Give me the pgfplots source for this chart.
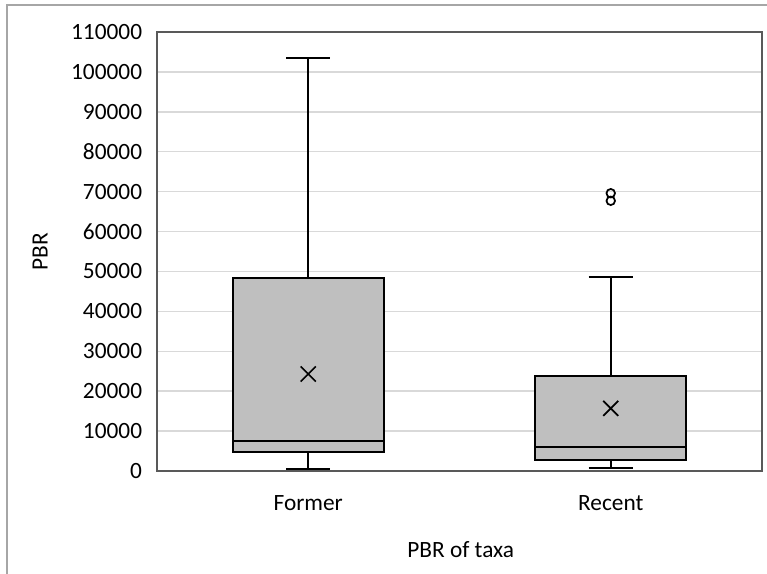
\documentclass[border=0pt]{standalone}
\usepackage{pgfplots}
\pgfplotsset{compat=1.18}
\usepgfplotslibrary{statistics}
\usepackage{fontspec}
\setmainfont{Carlito}
\definecolor{boxfill}{HTML}{BFBFBF}
\definecolor{gridc}{HTML}{D9D9D9}
\definecolor{framec}{HTML}{595959}
\definecolor{outerc}{HTML}{A6A6A6}
\begin{document}
\begin{tikzpicture}
\useasboundingbox (0pt,0pt) rectangle (575.25pt,430.5pt);
\draw[outerc, line width=1.1pt] (5.25pt,0pt) -- (5.25pt,426.75pt) -- (575.25pt,426.75pt);
\begin{axis}[
  at={(117.75pt,77.25pt)}, anchor=south west,
  scale only axis, width=453.75pt, height=329.25pt,
  xmin=0.5, xmax=2.5, ymin=0, ymax=110000,
  xtick={1,2}, xticklabels={Former,Recent},
  ytick={0,10000,...,110000},
  major tick length=0pt,
  ymajorgrids, grid style={gridc, line width=1.1pt},
  axis line style={framec, line width=1.1pt},
  scaled y ticks=false,
  /pgf/number format/assume math mode=true,
  /pgf/number format/fixed, /pgf/number format/set thousands separator={},
  yticklabel style={font=\fontsize{17.5}{20}\selectfont, inner sep=0pt, anchor=east, xshift=-11pt},
  xticklabel style={font=\fontsize{17.5}{20}\selectfont, inner sep=0pt, anchor=north, yshift=-18pt},
  xlabel={PBR of taxa}, ylabel={PBR},
  xlabel style={font=\fontsize{17.5}{20}\selectfont, inner sep=0pt, at={(axis description cs:0.502,-0.161)}, anchor=north},
  ylabel style={font=\fontsize{17.5}{20}\selectfont, inner sep=0pt, at={(axis description cs:-0.193,0.5)}, anchor=center},
  boxplot/draw direction=y,
  boxplot/box extend=0.5,
  boxplot/whisker extend=0.146,
]
\addplot[draw=black, fill=boxfill, line width=1.5pt,
  boxplot prepared={lower whisker=600, lower quartile=4700, median=7600,
    upper quartile=48400, upper whisker=103600, draw position=1}]
  coordinates {};
\addplot[draw=black, fill=boxfill, line width=1.5pt, mark=o, mark size=3.2pt,
  mark options={black, line width=1.3pt, fill=none},
  boxplot prepared={lower whisker=700, lower quartile=2750, median=5900,
    upper quartile=23900, upper whisker=48600, draw position=2}]
  coordinates {(2,67700) (2,69600)};
\addplot[only marks, mark=x, mark size=8pt, mark options={black, line width=1.3pt}]
  coordinates {(1,24300) (2,15700)};
\end{axis}
\end{tikzpicture}
\end{document}
